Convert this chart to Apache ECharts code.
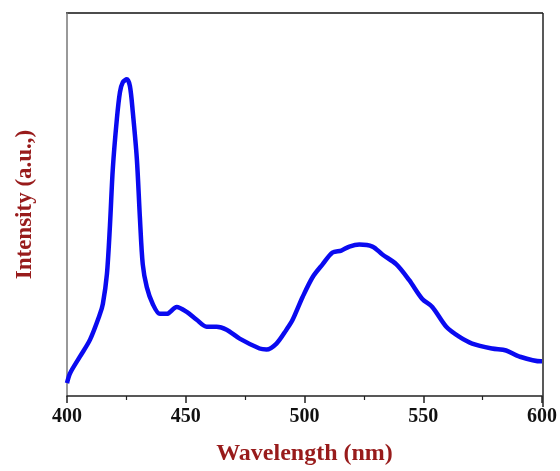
<!DOCTYPE html>
<html>
<head>
<meta charset="utf-8">
<script src="https://cdn.jsdelivr.net/npm/echarts@6/dist/echarts.min.js"></script>
<style>html,body{margin:0;padding:0;background:#fff;width:560px;height:471px;overflow:hidden;}#c{width:560px;height:471px;}</style>
</head>
<body>
<div id="c"></div>
<script>
var wavelength = [400,401.3,405.5,409.7,413.9,415.1,416.8,418.1,419.3,421,422.3,423.5,425.2,426.5,427.7,429.4,430.7,431.9,433.6,436.1,439.1,442,446.2,450.4,454.6,458.8,463,467.2,472.7,481.1,484,488.2,492.4,495,499.2,503.4,507.6,511.8,515.5,518.9,523.1,528.6,532.8,538.7,544.1,549.6,553.8,559.7,565.1,570.6,579,584.9,590.3,599.6,600];
var intensity = [13,23,40,57,83,93,123,173,230,280,307,317,320,313,287,240,180,133,110,93,83,83,90,85,77,70,70,67,58,48,47,53,67,77,100,120,133,145,147,151,153,151,143,133,117,98,90,70,60,53,48,46,40,35,35];
var xTicks = [400,450,500,550,600];

var data = wavelength.map(function(w,i){return [w,intensity[i]];});
var chart = echarts.init(document.getElementById('c'));
chart.setOption({
  animation:false,
  backgroundColor:'#fff',
  grid:{left:67,right:17,top:13,bottom:71},
  xAxis:{
    type:'value',min:400,max:600,interval:50,
    name:'Wavelength (nm)',nameLocation:'middle',nameGap:46,
    nameTextStyle:{fontFamily:'Liberation Serif',fontWeight:'bold',fontSize:24,lineHeight:24,color:'#981b1b'},
    axisLine:{show:true,lineStyle:{color:'#222',width:1.5}},
    axisTick:{show:true,length:7,inside:false,lineStyle:{color:'#222',width:1.5}},
    minorTick:{show:true,splitNumber:2,length:4,lineStyle:{color:'#222',width:1.2}},
    axisLabel:{margin:11,fontFamily:'Liberation Serif',fontWeight:'bold',fontSize:20,color:'#111',
      formatter:function(v){return xTicks.indexOf(v)>=0?String(v):'';}},
    splitLine:{show:false}
  },
  yAxis:{
    type:'value',min:0,max:387,
    name:'Intensity (a.u.,)',nameLocation:'middle',nameGap:30,nameRotate:90,
    nameTextStyle:{fontFamily:'Liberation Serif',fontWeight:'bold',fontSize:23,color:'#981b1b'},
    axisLine:{show:true,lineStyle:{color:'#777',width:1.5}},
    axisTick:{show:false},axisLabel:{show:false},splitLine:{show:false}
  },
  graphic:[
    {type:'line',shape:{x1:66,y1:13,x2:543,y2:13},style:{stroke:'#111',lineWidth:1.5},silent:true},
    {type:'line',shape:{x1:543,y1:13,x2:543,y2:407},style:{stroke:'#222',lineWidth:1.5},silent:true}
  ],
  series:[{
    type:'line',data:data,showSymbol:false,smooth:0.3,
    lineStyle:{color:'#0a0af0',width:4.5},clip:true
  }]
});
</script>
</body>
</html>
